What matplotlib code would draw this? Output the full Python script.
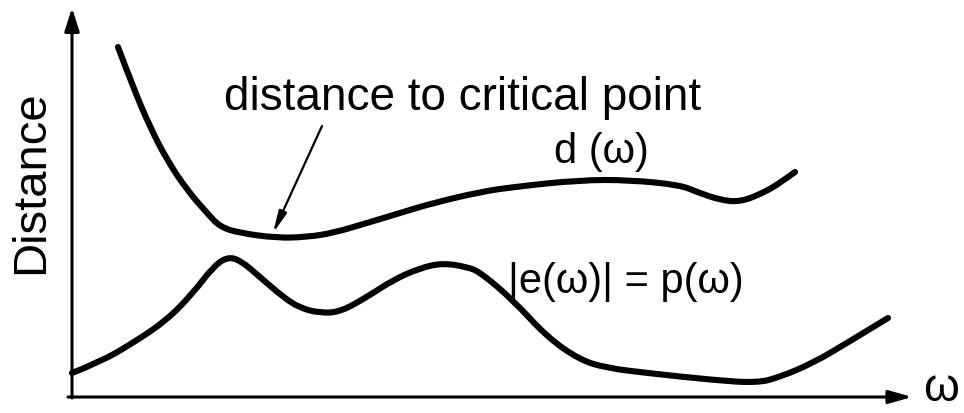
import matplotlib.pyplot as plt
from matplotlib.path import Path
from matplotlib.patches import PathPatch

# curve sample points in drawing units (y grows downward)
d_x = [118, 133, 150, 167, 187, 207, 220, 240, 277, 307, 333, 367, 400, 433, 480,
       513, 580, 630, 680, 697, 720, 740, 763, 780, 795]
d_y = [47, 87, 127, 160, 190, 213, 227, 233, 238, 237, 233, 223, 213, 203, 192,
       187, 180, 180, 185, 192, 200, 202, 193, 183, 172]

e_x = [72, 100, 133, 167, 193, 213, 227, 240, 260, 283, 300, 320, 340, 367, 393,
       420, 443, 467, 480, 513, 547, 580, 607, 647, 713, 757, 780, 813, 847, 888]
e_y = [373, 362, 343, 320, 293, 267, 257, 260, 277, 297, 308, 313, 312, 297, 280,
       268, 263, 267, 272, 300, 337, 360, 368, 373, 380, 383, 377, 363, 343, 318]

FONT = ['Liberation Sans', 'DejaVu Sans']


def smooth_path(xs, ys):
    # quadratic bezier through midpoints, sample points act as control points
    pts = list(zip(xs, ys))
    verts = [pts[0]]
    codes = [Path.MOVETO]
    for i in range(1, len(pts) - 1):
        mid = ((pts[i][0] + pts[i + 1][0]) / 2, (pts[i][1] + pts[i + 1][1]) / 2)
        if i == len(pts) - 2:
            mid = pts[i + 1]
        verts += [pts[i], mid]
        codes += [Path.CURVE3, Path.CURVE3]
    return Path(verts, codes)


fig = plt.figure(figsize=(9.64, 4.13), dpi=100)
ax = fig.add_axes([0, 0, 1, 1])
ax.set_xlim(0, 964)
ax.set_ylim(413, 0)
ax.axis('off')

# axes with arrow heads
ax.annotate('', xy=(72, 8), xytext=(72, 398),
            arrowprops=dict(arrowstyle='-|>,head_length=1.4,head_width=0.45',
                            lw=2.2, color='black', shrinkA=0, shrinkB=0))
ax.annotate('', xy=(912, 397), xytext=(68, 397),
            arrowprops=dict(arrowstyle='-|>,head_length=1.4,head_width=0.4',
                            lw=2.2, color='black', shrinkA=0, shrinkB=0))

for xs, ys in [(d_x, d_y), (e_x, e_y)]:
    ax.add_patch(PathPatch(smooth_path(xs, ys), fill=False, lw=4.4,
                           edgecolor='black', capstyle='round', joinstyle='round'))

# pointer to the minimum of d
ax.annotate('', xy=(273, 233), xytext=(322, 126),
            arrowprops=dict(arrowstyle='-|>,head_length=1.3,head_width=0.25',
                            lw=1.6, color='black', shrinkA=0, shrinkB=0))

ax.text(463, 110, 'distance to critical point', fontsize=33, family=FONT,
        ha='center', va='baseline')
ax.text(601, 163, 'd (ω)', fontsize=30, family=FONT, ha='center', va='baseline')
ax.text(626, 293, '|e(ω)| = p(ω)', fontsize=30, family=FONT,
        ha='center', va='baseline')
ax.text(31, 182, 'Distance', fontsize=34, family=FONT, rotation=90,
        ha='center', va='center')
ax.text(941, 401, 'ω', fontsize=33, family=FONT, ha='center', va='baseline')

plt.savefig('out.png', dpi=100)
